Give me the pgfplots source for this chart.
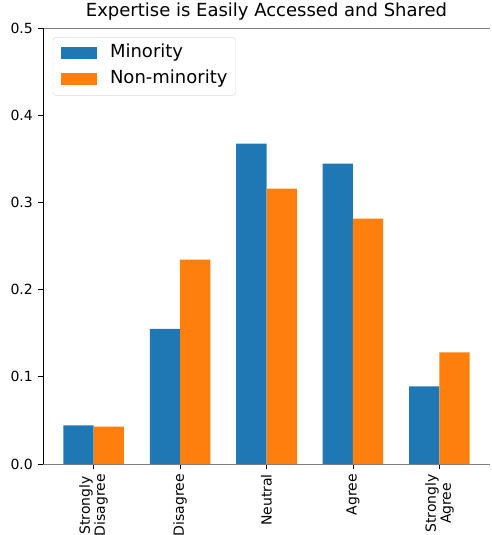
\documentclass[border=0pt]{standalone}
\usepackage{fontspec}
\setmainfont{DejaVu Sans}
\usepackage{pgfplots}
\pgfplotsset{compat=1.18}
\definecolor{cblue}{HTML}{1F77B4}
\definecolor{corange}{HTML}{FF7F0E}
\definecolor{spinegray}{HTML}{808080}
\begin{document}
\begin{tikzpicture}
\begin{axis}[
  scale only axis,
  width=447pt, height=436pt,
  xmin=-0.585, xmax=4.585,
  ymin=0, ymax=0.5,
  ybar, bar width=0.35,
  axis x line*=box, axis y line*=left,
  x axis line style={spinegray, line width=0.9pt},
  y axis line style={black, line width=0.9pt},
  tick align=outside,
  major tick length=5pt,
  tick style={black, line width=0.9pt},
  xtick={0,1,2,3,4},
  xtick pos=bottom, ytick pos=left,
  xticklabels={{Strongly\\Disagree},{Disagree},{Neutral},{Agree},{Strongly\\Agree}},
  xticklabel style={rotate=90, anchor=east, align=center, font=\fontsize{14pt}{15pt}\selectfont, inner sep=0pt, xshift=-5pt},
  ytick={0,0.1,0.2,0.3,0.4,0.5},
  yticklabel style={font=\fontsize{14pt}{16pt}\selectfont, inner sep=0pt, xshift=-5pt},
  /pgf/number format/assume math mode=true,
  /pgf/number format/.cd, fixed, fixed zerofill, precision=1, /pgfplots/.cd,
  title={Expertise is Easily Accessed and Shared},
  title style={font=\fontsize{18pt}{20pt}\selectfont, at={(0.5,1)}, anchor=south, yshift=2pt, inner sep=0pt},
  legend style={at={(0.022,0.979)}, anchor=north west, draw=black!15, rounded corners=3pt,
    font=\fontsize{18pt}{20pt}\selectfont, inner xsep=8pt, inner ysep=7.5pt,
    nodes={inner sep=0pt, text height=13pt, text depth=4pt}, row sep=9pt},
  legend cell align=left,
  legend image code/.code={\path[#1,draw=none,sharp corners] (0pt,-6pt) rectangle (36pt,6pt);},
]
\addplot[fill=cblue, draw=none, bar shift=-0.175] coordinates {(0,0.0443) (1,0.155) (2,0.3673) (3,0.3444) (4,0.089)};
\addlegendentry{\hspace{13pt}Minority}
\addplot[fill=corange, draw=none, bar shift=0.175] coordinates {(0,0.0428) (1,0.2343) (2,0.3157) (3,0.2813) (4,0.128)};
\addlegendentry{\hspace{13pt}Non-minority}
\end{axis}
\pgfresetboundingbox
\useasboundingbox (-43pt,-71pt) rectangle (448pt,464pt);
\end{tikzpicture}
\end{document}
